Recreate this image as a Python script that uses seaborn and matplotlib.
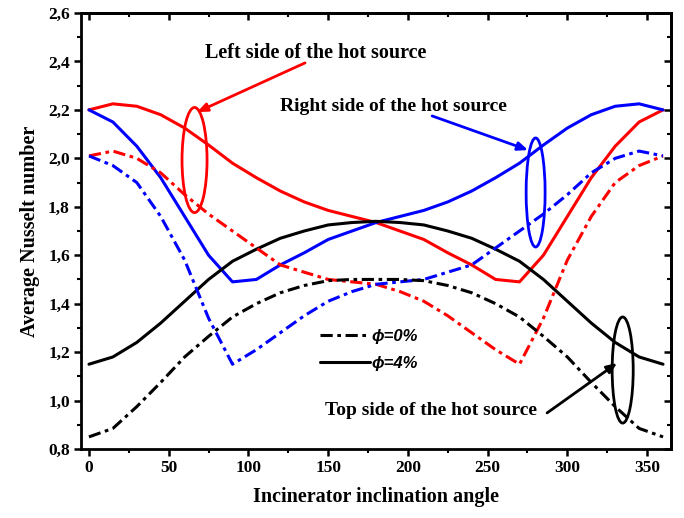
import matplotlib
matplotlib.use("Agg")
import matplotlib.pyplot as plt
from matplotlib.patches import Ellipse
from matplotlib.lines import Line2D
from matplotlib.ticker import MultipleLocator, FuncFormatter
import seaborn as sns
import pandas as pd

angles = [0, 15, 30, 45, 60, 75, 90, 105, 120, 135, 150, 165, 180,
          195, 210, 225, 240, 255, 270, 285, 300, 315, 330, 345, 360]

left_4 = [2.20, 2.225, 2.215, 2.18, 2.125, 2.055, 1.98, 1.92, 1.865, 1.82, 1.785, 1.76, 1.735,
          1.70, 1.665, 1.61, 1.56, 1.50, 1.49, 1.60, 1.76, 1.92, 2.05, 2.15, 2.20]
right_4 = [2.20, 2.15, 2.05, 1.92, 1.76, 1.60, 1.49, 1.50, 1.56, 1.61, 1.665, 1.70, 1.735,
           1.76, 1.785, 1.82, 1.865, 1.92, 1.98, 2.055, 2.125, 2.18, 2.215, 2.225, 2.20]
left_0 = [2.01, 2.03, 2.00, 1.94, 1.85, 1.77, 1.70, 1.63, 1.56, 1.53, 1.50, 1.49, 1.48,
          1.45, 1.41, 1.35, 1.28, 1.21, 1.15, 1.34, 1.58, 1.76, 1.90, 1.97, 2.01]
right_0 = [2.01, 1.97, 1.90, 1.76, 1.58, 1.34, 1.15, 1.21, 1.28, 1.35, 1.41, 1.45, 1.48,
           1.49, 1.50, 1.53, 1.56, 1.63, 1.70, 1.77, 1.85, 1.94, 2.00, 2.03, 2.01]
top_4 = [1.15, 1.18, 1.24, 1.32, 1.41, 1.50, 1.575, 1.625, 1.67, 1.70, 1.725, 1.735, 1.74,
         1.735, 1.725, 1.70, 1.67, 1.625, 1.575, 1.50, 1.41, 1.32, 1.24, 1.18, 1.15]
top_0 = [0.85, 0.885, 0.975, 1.075, 1.18, 1.265, 1.345, 1.40, 1.445, 1.475, 1.495, 1.50, 1.50,
         1.50, 1.495, 1.475, 1.445, 1.40, 1.345, 1.265, 1.18, 1.075, 0.975, 0.885, 0.85]

legend_labels = ["\u03d5=0%", "\u03d5=4%"]
label_left = "Left side of the hot source"
label_right = "Right side of the hot source"
label_top = "Top side of the hot source"
x_label = "Incinerator inclination angle"
y_label = "Average Nusselt number"

sns.set_style("ticks")
plt.rcParams["font.family"] = ["Liberation Serif", "DejaVu Serif"]
plt.rcParams["font.weight"] = "bold"
plt.rcParams["text.color"] = "black"
plt.rcParams["axes.labelcolor"] = "black"
plt.rcParams["xtick.color"] = "black"
plt.rcParams["ytick.color"] = "black"
plt.rcParams["axes.edgecolor"] = "black"

fig = plt.figure(figsize=(6.84, 5.18), dpi=100)
ax = fig.add_axes([81 / 684, 69 / 518, 590 / 684, 436 / 518])

dashdot = (0, (4, 1.5, 1.2, 1.5))
lw = 2.2
series = [
    (left_4, "#ff0000", "-"),
    (right_4, "#0000ff", "-"),
    (top_4, "#000000", "-"),
    (left_0, "#ff0000", dashdot),
    (right_0, "#0000ff", dashdot),
    (top_0, "#000000", dashdot),
]
for vals, col, ls in series:
    df = pd.DataFrame({"angle": angles, "nu": vals})
    sns.lineplot(data=df, x="angle", y="nu", ax=ax, color=col, linestyle=ls,
                 linewidth=lw, legend=False)

ax.set_xlim(-5, 365)
ax.set_ylim(0.8, 2.6)
ax.xaxis.set_major_locator(MultipleLocator(50))
ax.xaxis.set_minor_locator(MultipleLocator(25))
ax.yaxis.set_major_locator(MultipleLocator(0.2))
ax.yaxis.set_minor_locator(MultipleLocator(0.1))
ax.yaxis.set_major_formatter(FuncFormatter(lambda v, p: f"{v:.1f}".replace(".", ",")))

for sp in ax.spines.values():
    sp.set_linewidth(2.0)
    sp.set_color("black")
    sp.set_visible(True)
ax.tick_params(which="major", direction="out", length=5, width=1.8,
               labelsize=12.5, pad=3, colors="black")
ax.tick_params(which="minor", direction="out", length=3, width=1.5, colors="black")
for t in ax.get_xticklabels() + ax.get_yticklabels():
    t.set_fontweight("bold")

secx = ax.secondary_xaxis("top")
secx.xaxis.set_major_locator(MultipleLocator(50))
secx.xaxis.set_minor_locator(MultipleLocator(25))
secx.tick_params(which="major", direction="in", length=5, width=1.8, labeltop=False, colors="black")
secx.tick_params(which="minor", direction="in", length=3, width=1.5, colors="black")
secx.spines["top"].set_linewidth(2.0)
secy = ax.secondary_yaxis("right")
secy.yaxis.set_major_locator(MultipleLocator(0.2))
secy.yaxis.set_minor_locator(MultipleLocator(0.1))
secy.tick_params(which="major", direction="in", length=5, width=1.8, labelright=False, colors="black")
secy.tick_params(which="minor", direction="in", length=3, width=1.5, colors="black")
secy.spines["right"].set_linewidth(2.0)

ax.set_xlabel(x_label, fontsize=14.5, fontweight="bold", labelpad=8, color="black")
ax.set_ylabel(y_label, fontsize=14.5, fontweight="bold", labelpad=6, color="black")

# ellipses
ax.add_patch(Ellipse((66.2, 1.993), 15.7, 0.434, fill=False, ec="#ff0000", lw=2.0))
ax.add_patch(Ellipse((280.1, 1.859), 11.9, 0.45, fill=False, ec="#0000ff", lw=2.0))
ax.add_patch(Ellipse((334.7, 1.126), 13.2, 0.438, fill=False, ec="#000000", lw=2.0))

# arrows and texts
ax.annotate("", xy=(67.8, 2.191), xytext=(135.5, 2.394),
            arrowprops=dict(arrowstyle="-|>,head_length=0.6,head_width=0.25",
                            color="#ff0000", lw=2.0, shrinkA=0, shrinkB=0))
ax.annotate("", xy=(275.4, 2.034), xytext=(215.2, 2.175),
            arrowprops=dict(arrowstyle="-|>,head_length=0.6,head_width=0.25",
                            color="#0000ff", lw=2.0, shrinkA=0, shrinkB=0))
ax.annotate("", xy=(331.2, 1.155), xytext=(287.3, 0.949),
            arrowprops=dict(arrowstyle="-|>,head_length=0.6,head_width=0.25",
                            color="#000000", lw=2.0, shrinkA=0, shrinkB=0))

ax.text(142.0, 2.435, label_left, ha="center", va="center", fontsize=14.5,
        fontweight="bold", color="black")
ax.text(191.0, 2.212, label_right, ha="center", va="center", fontsize=14,
        fontweight="bold", color="black")
ax.text(214.2, 0.961, label_top, ha="center", va="center", fontsize=14,
        fontweight="bold", color="black")

handles = [Line2D([], [], color="black", lw=lw, linestyle=dashdot),
           Line2D([], [], color="black", lw=lw, linestyle="-")]
leg = ax.legend(handles, legend_labels, loc="upper left",
                bbox_to_anchor=(0.405, 0.276), frameon=False,
                handlelength=3.0, handletextpad=0.1, labelspacing=0.73,
                borderpad=0, borderaxespad=0,
                prop=dict(family=["Liberation Sans", "DejaVu Sans"], style="italic",
                          size=12))
for t in leg.get_texts():
    t.set_color("black")

fig.savefig("out.png", dpi=100)
